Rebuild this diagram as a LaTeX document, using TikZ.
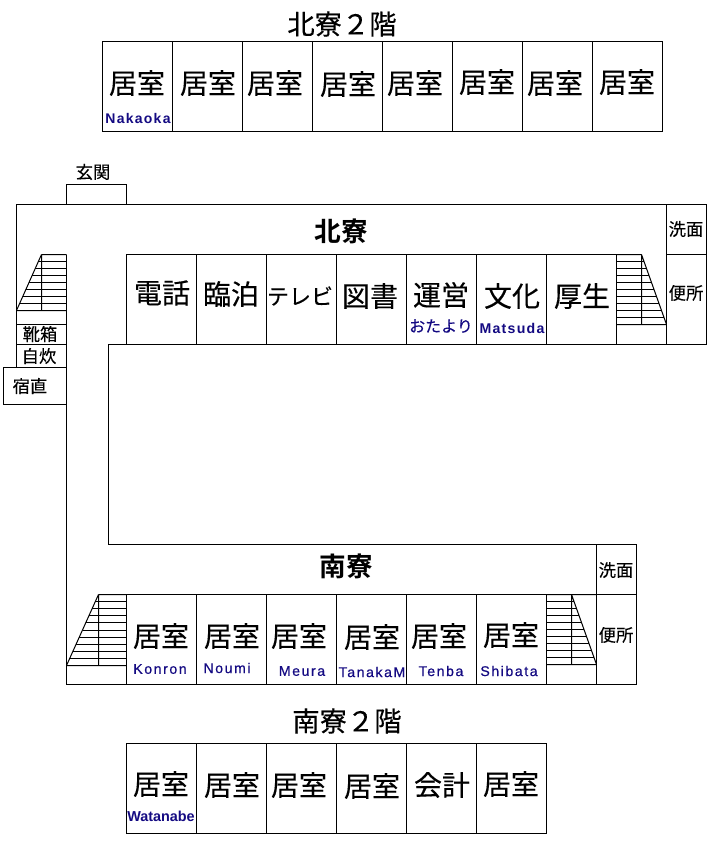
\documentclass[tikz,border=0pt]{standalone}
\usepackage{fontspec}
\usetikzlibrary{positioning}
\newfontfamily\jpfont[FakeBold=0.3]{Noto Sans CJK JP}
\newfontfamily\jpsmall[FakeBold=0.25]{Noto Sans CJK JP}
\newfontfamily\jpbold{Noto Sans CJK JP Bold}
\newfontfamily\namefont[LetterSpace=11,FakeBold=0.5]{Liberation Sans}
\newfontfamily\boldname[LetterSpace=9]{Liberation Sans Bold}
\newfontfamily\tightname{Liberation Sans Bold}
\definecolor{namecolor}{RGB}{20,10,130}
\begin{document}
\begin{tikzpicture}[x=0.75pt,y=-0.75pt,line width=0.75pt,node distance=0pt,
    room/.style={rectangle,draw,inner sep=0pt,outer sep=0pt,minimum width=52.5pt,minimum height=67.5pt},
    roomname/.style={inner sep=0pt,font=\jpfont\fontsize{21}{21}\selectfont},
    smallname/.style={inner sep=0pt,font=\jpsmall\fontsize{13}{13}\selectfont},
    titlename/.style={inner sep=0pt,font=\jpfont\fontsize{20.5}{21}\selectfont},
    blockname/.style={inner sep=0pt,font=\jpbold\fontsize{20}{21}\selectfont},
    person/.style={inner sep=0pt,text=namecolor,font=\namefont\fontsize{10.6}{11}\selectfont}]

    \useasboundingbox (0,0) rectangle (713,845);

    % Outer walls
    \draw (66.5,204.5) -- (16.5,204.5) -- (16.5,367.5);
    \draw (66.5,204.5) -- (666.5,204.5);
    \draw (66.5,254.5) -- (66.5,684.5) -- (596.5,684.5);
    \draw (596.5,544.5) -- (108.5,544.5) -- (108.5,344.5) -- (666.5,344.5);

    % Entrance and small rooms on the left
    \node[room,minimum width=45pt,minimum height=15pt,anchor=north west] (entry) at (66.5,184.5) {};
    \node[room,minimum width=37.5pt,minimum height=15pt,anchor=north west] (shoes) at (16.5,324.5) {};
    \node[room,minimum width=37.5pt,minimum height=17.25pt,below=of shoes] (cook) {};
    \node[room,minimum width=47.25pt,minimum height=27.75pt,anchor=north west] (duty) at (3.5,367.5) {};

    % North wing, second floor
    \node[room,anchor=north west] (na1) at (102.5,41.5) {};
    \foreach \i [remember=\i as \prev (initially 1)] in {2,...,8}
        \node[room,right=of na\prev] (na\i) {};

    % North wing, ground floor
    \node[room,anchor=north west] (nb1) at (126.5,254.5) {};
    \foreach \i [remember=\i as \prev (initially 1)] in {2,...,7}
        \node[room,right=of nb\prev] (nb\i) {};

    % South wing, ground floor
    \node[room,anchor=north west] (sa1) at (126.5,594.5) {};
    \foreach \i [remember=\i as \prev (initially 1)] in {2,...,6}
        \node[room,right=of sa\prev] (sa\i) {};

    % South wing, second floor
    \node[room,anchor=north west] (sb1) at (126.5,743.5) {};
    \foreach \i [remember=\i as \prev (initially 1)] in {2,...,6}
        \node[room,right=of sb\prev] (sb\i) {};

    % Washrooms and toilets
    \node[room,minimum width=30pt,minimum height=37.5pt,anchor=north west] (nwash) at (666.5,204.5) {};
    \node[room,minimum width=30pt,below=of nwash] (ntoilet) {};
    \node[room,minimum width=30pt,minimum height=37.5pt,anchor=north west] (swash) at (596.5,544.5) {};
    \node[room,minimum width=30pt,below=of swash] (stoilet) {};

    % Stairs
    \draw (41.5,254.5) -- (16.5,310.5) (41.5,254.5) -- (41.5,310.5) (16.5,310.5) -- (66.5,310.5) (41.5,254.5) -- (66.5,254.5);
    \foreach \i in {1,...,7}
        \draw ({41.5-\i*25/8},{254.5+\i*7}) -- (66.5,{254.5+\i*7});
    \draw (641.5,254.5) -- (666.5,324.5) (641.5,254.5) -- (641.5,324.5) (616.5,324.5) -- (666.5,324.5) (616.5,254.5) -- (641.5,254.5);
    \foreach \i in {1,...,9}
        \draw (616.5,{254.5+\i*7}) -- ({641.5+\i*2.5},{254.5+\i*7});
    \draw (98.5,594.5) -- (66.5,665.5) (98.5,594.5) -- (98.5,665.5) (66.5,665.5) -- (126.5,665.5) (98.5,594.5) -- (126.5,594.5);
    \foreach \i in {1,...,9}
        \draw ({98.5-\i*3.2},{594.5+\i*7.1}) -- (126.5,{594.5+\i*7.1});
    \draw (571.5,594.5) -- (596.5,664.5) (571.5,594.5) -- (571.5,664.5) (546.5,664.5) -- (596.5,664.5) (546.5,594.5) -- (596.5,594.5);
    \foreach \i in {1,...,9}
        \draw (546.5,{594.5+\i*7}) -- ({571.5+\i*2.5},{594.5+\i*7});

    % Titles
    \node[titlename] (titleNtwo) at (342,24) {北寮２階};
    \node[titlename] (titleStwo) at (347,721) {南寮２階};
    \node[blockname] (titleN) at (341,231) {北寮};
    \node[blockname] (titleS) at (346,566) {南寮};

    % Room names
    \foreach \i/\xx/\yy/\txt in {a1/137/83/居室,a2/208/83/居室,a3/275/83/居室,a4/348/84/居室,
            a5/415/83/居室,a6/487/82/居室,a7/555/83/居室,a8/627/82/居室,
            b1/162/293/電話,b2/231/294/臨泊,b4/370/296/図書,
            b5/441/295/運営,b6/512/296/文化,b7/582/296/厚生,
            c1/161/636/居室,c2/232/636/居室,c3/299/636/居室,c4/372/637/居室,c5/439/636/居室,c6/511/635/居室,
            d1/161/784/居室,d2/232/785/居室,d3/299/785/居室,d4/372/786/居室,d5/442/785/会計,d6/511/784/居室}
        \node[roomname] (name\i) at (\xx,\yy) {\txt};
    \node[roomname,font=\jpsmall\fontsize{16.5}{17}\selectfont] (nameb3) at (300,296) {テレビ};

    \foreach \i/\xx/\yy/\txt in {e1/93/172/玄関,e2/686/229/洗面,e3/686/293/便所,e4/616/570/洗面,
            e5/616/635/便所,e6/40/334/靴箱,e7/39/356/自炊,e8/30/386/宿直}
        \node[smallname] (name\i) at (\xx,\yy) {\txt};

    % People
    \foreach \i/\xx/\yy/\txt in {p3/160/669/Konron,p4/227/668/Noumi,
            p5/302/671/Meura,p6/372/672/TanakaM,p7/441/671/Tenba,p8/509/671/Shibata}
        \node[person] (\i) at (\xx,\yy) {\txt};
    \node[person,font=\boldname\fontsize{10.5}{11}\selectfont] (p1) at (138,118) {Nakaoka};
    \node[person,font=\boldname\fontsize{10.6}{11}\selectfont] (p2) at (512,328) {Matsuda};
    \node[person,font=\tightname\fontsize{10.8}{11}\selectfont] (p9) at (161,816) {Watanabe};
    \node[smallname,text=namecolor,font=\jpsmall\fontsize{12}{12}\selectfont] (otayori) at (441,326) {おたより};

\end{tikzpicture}
\end{document}
